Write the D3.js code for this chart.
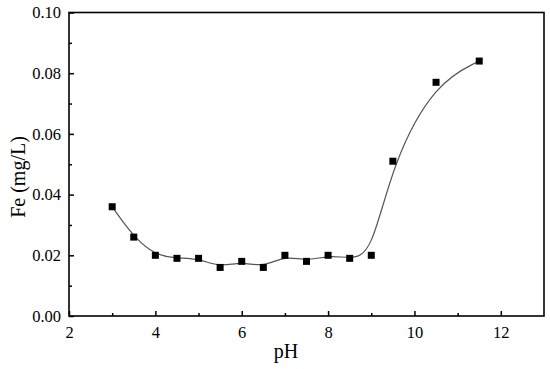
<!DOCTYPE html>
<html>
<head>
<meta charset="utf-8">
<script src="https://cdn.jsdelivr.net/npm/d3@7"></script>
<style>
  html, body { margin: 0; padding: 0; background: #fff; }
  #chart { width: 550px; height: 369px; }
</style>
</head>
<body>
<div id="chart"></div>
<script>
const phValues = [3, 3.5, 4, 4.5, 5, 5.5, 6, 6.5, 7, 7.5, 8, 8.5, 9, 9.5, 10.5, 11.5];
const feValues = [0.036, 0.026, 0.020, 0.019, 0.019, 0.016, 0.018, 0.016, 0.020, 0.018, 0.020, 0.019, 0.020, 0.051, 0.077, 0.084];
const xMajorTicks = [2, 4, 6, 8, 10, 12];
const xMinorTicks = [3, 5, 7, 9, 11];
const yMajorTicks = [0, 0.02, 0.04, 0.06, 0.08, 0.10];
const yMinorTicks = [0.01, 0.03, 0.05, 0.07, 0.09];

const font = '"Liberation Serif", "Times New Roman", serif';
const width = 550;
const height = 369;
const margin = { top: 12.5, right: 6, bottom: 53, left: 69 };
const innerW = width - margin.left - margin.right;
const innerH = height - margin.top - margin.bottom;

const data = phValues.map((ph, i) => ({ ph, fe: feValues[i] }));

const svg = d3.select("#chart")
  .append("svg")
  .attr("width", width)
  .attr("height", height)
  .style("font-family", font);

const g = svg.append("g")
  .attr("transform", `translate(${margin.left},${margin.top})`);

const x = d3.scaleLinear().domain([2, 13]).range([0, innerW]);
const y = d3.scaleLinear().domain([0, 0.10]).range([innerH, 0]);

// smoothed curve (B-spline through the measured points)
const line = d3.line()
  .x((d) => x(d.ph))
  .y((d) => y(d.fe))
  .curve(d3.curveBasis);

g.append("path")
  .datum(data)
  .attr("fill", "none")
  .attr("stroke", "#555")
  .attr("stroke-width", 1.2)
  .attr("d", line);

// square markers
const s = 7;
g.selectAll("rect.pt")
  .data(data)
  .join("rect")
  .attr("class", "pt")
  .attr("x", (d) => x(d.ph) - s / 2)
  .attr("y", (d) => y(d.fe) - s / 2)
  .attr("width", s)
  .attr("height", s)
  .attr("fill", "#000");

function styleAxis(a) {
  a.attr("font-family", null).attr("font-size", null);
  a.select(".domain").remove();
  a.selectAll(".tick line").attr("stroke", "#000").attr("stroke-width", 1.5);
  a.selectAll(".tick text")
    .attr("fill", "#000")
    .style("font-family", font)
    .style("font-size", "16.5px");
}

// bottom axis, ticks pointing inward
g.append("g")
  .attr("transform", `translate(0,${innerH})`)
  .call(d3.axisBottom(x).tickValues(xMajorTicks).tickSize(-5).tickPadding(10).tickFormat(d3.format("d")))
  .call(styleAxis);

g.append("g")
  .attr("transform", `translate(0,${innerH})`)
  .call(d3.axisBottom(x).tickValues(xMinorTicks).tickSize(-3).tickFormat(""))
  .call(styleAxis);

// left axis, ticks pointing inward
g.append("g")
  .call(d3.axisLeft(y).tickValues(yMajorTicks).tickSize(-5).tickPadding(8).tickFormat(d3.format(".2f")))
  .call(styleAxis);

g.append("g")
  .call(d3.axisLeft(y).tickValues(yMinorTicks).tickSize(-3).tickFormat(""))
  .call(styleAxis);

// frame
g.append("rect")
  .attr("width", innerW)
  .attr("height", innerH)
  .attr("fill", "none")
  .attr("stroke", "#000")
  .attr("stroke-width", 1.6);

// axis titles
svg.append("text")
  .attr("x", 286)
  .attr("y", 358)
  .attr("text-anchor", "middle")
  .style("font-size", "20px")
  .text("pH");

svg.append("text")
  .attr("transform", "translate(25,177) rotate(-90)")
  .attr("text-anchor", "middle")
  .style("font-size", "20px")
  .text("Fe (mg/L)");
</script>
</body>
</html>
